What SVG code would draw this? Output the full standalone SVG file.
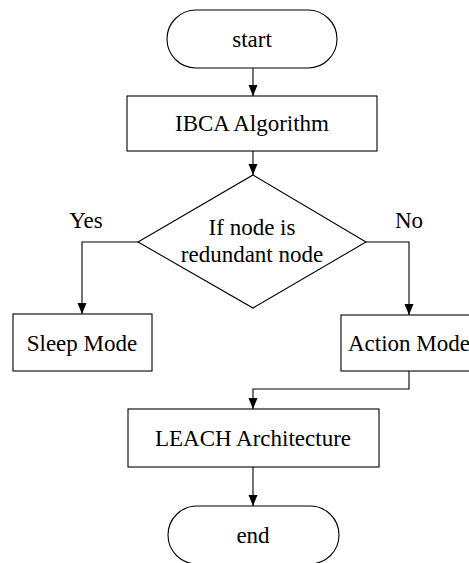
<svg xmlns="http://www.w3.org/2000/svg" width="469" height="563" viewBox="0 0 469 563">
<defs>
<marker id="arr" markerUnits="userSpaceOnUse" markerWidth="12" markerHeight="10" refX="11" refY="5" orient="auto">
<path d="M0,0.5 L11,5 L0,9.5 z" fill="#000"/>
</marker>
<style>
.shape{fill:#fff;stroke:#000;stroke-width:1.1}
.conn{fill:none;stroke:#000;stroke-width:1.1}
.t{font-family:'Liberation Serif','Times New Roman',serif;font-size:23px;fill:#000;text-anchor:middle}
</style>
</defs>
<rect width="469" height="563" fill="#fff"/>
<g id="connectors">
<line class="conn" x1="253" y1="68" x2="253" y2="96" marker-end="url(#arr)"/>
<line class="conn" x1="253" y1="151" x2="253" y2="175" marker-end="url(#arr)"/>
<polyline class="conn" points="138,242 82,242 82,314" marker-end="url(#arr)"/>
<polyline class="conn" points="366,242 409,242 409,315" marker-end="url(#arr)"/>
<polyline class="conn" points="409,371 409,389 253,389 253,409" marker-end="url(#arr)"/>
<line class="conn" x1="253" y1="467" x2="253" y2="506" marker-end="url(#arr)"/>
<text class="t" x="86" y="228">Yes</text>
<text class="t" x="409" y="228">No</text>
</g>
<g id="start">
<rect class="shape" x="167" y="10" width="170" height="58" rx="29" ry="29"/>
<text class="t" x="252" y="47">start</text>
</g>
<g id="ibca">
<rect class="shape" x="127" y="96" width="250" height="55"/>
<text class="t" x="252" y="131">IBCA Algorithm</text>
</g>
<g id="decision">
<polygon class="shape" points="253,175 366,242 253,308 138,242"/>
<text class="t" x="252" y="235">If node is</text>
<text class="t" x="252" y="262">redundant node</text>
</g>
<g id="sleep">
<rect class="shape" x="13" y="314" width="139" height="57"/>
<text class="t" x="82" y="351">Sleep Mode</text>
</g>
<g id="action">
<rect class="shape" x="341" y="315" width="139" height="56"/>
<text class="t" x="409" y="351">Action Mode</text>
</g>
<g id="leach">
<rect class="shape" x="128" y="409" width="251" height="58"/>
<text class="t" x="253" y="446">LEACH Architecture</text>
</g>
<g id="end">
<rect class="shape" x="168" y="506" width="171" height="58" rx="29" ry="29"/>
<text class="t" x="253" y="543">end</text>
</g>
</svg>
